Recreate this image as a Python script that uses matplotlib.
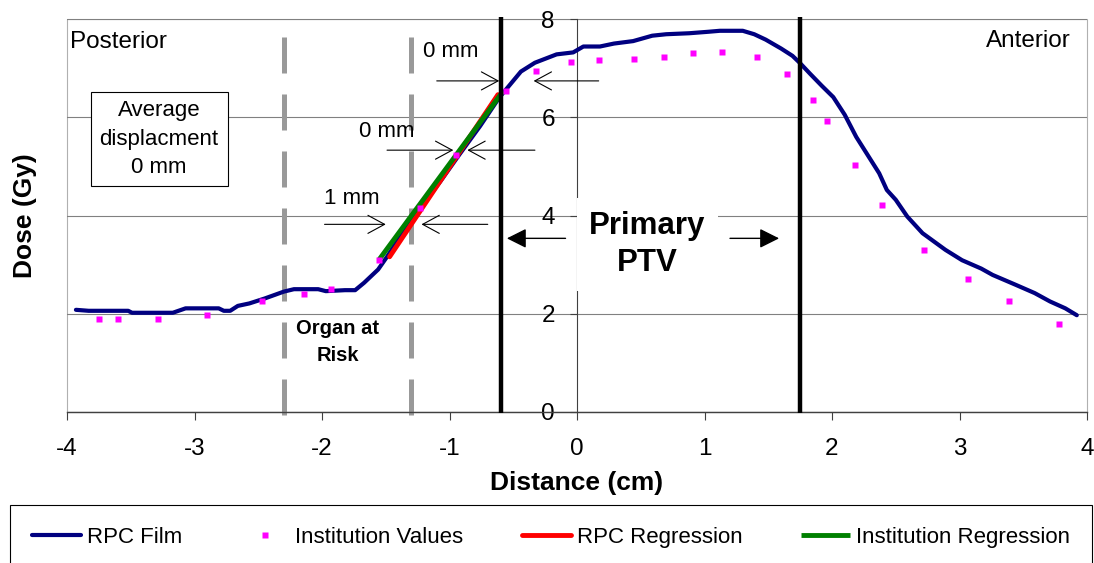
import matplotlib
matplotlib.use('Agg')
import matplotlib.pyplot as plt

plt.rcParams['font.family'] = ['Liberation Sans', 'DejaVu Sans']
plt.rcParams['axes.unicode_minus'] = False

# RPC film profile
film_x = [-3.93, -3.83, -3.52, -3.49, -3.17, -3.07, -2.81, -2.77, -2.72, -2.66,
          -2.57, -2.45, -2.30, -2.22, -2.03, -1.97, -1.82, -1.74, -1.67, -1.56,
          -1.49, -1.37, -1.22, -1.07, -0.92, -0.76, -0.61, -0.52, -0.44, -0.33,
          -0.16, -0.03, 0.05, 0.18, 0.29, 0.44, 0.59, 0.70, 0.88, 1.03,
          1.12, 1.30, 1.39, 1.48, 1.60, 1.69, 1.75, 1.83, 1.92, 2.01,
          2.10, 2.19, 2.28, 2.37, 2.43, 2.50, 2.59, 2.71, 2.89, 3.02,
          3.17, 3.26, 3.44, 3.59, 3.71, 3.83, 3.92]
film_y = [2.08, 2.06, 2.06, 2.02, 2.02, 2.11, 2.11, 2.06, 2.06, 2.16,
          2.21, 2.31, 2.45, 2.50, 2.50, 2.46, 2.48, 2.48, 2.63, 2.90,
          3.16, 3.64, 4.18, 4.70, 5.25, 5.82, 6.40, 6.68, 6.93, 7.11,
          7.28, 7.32, 7.44, 7.44, 7.50, 7.55, 7.66, 7.69, 7.71, 7.74,
          7.76, 7.76, 7.69, 7.58, 7.40, 7.25, 7.10, 6.88, 6.64, 6.41,
          6.05, 5.60, 5.23, 4.86, 4.52, 4.32, 3.98, 3.64, 3.30, 3.09,
          2.92, 2.79, 2.59, 2.42, 2.25, 2.11, 1.97]

# institution values
inst_x = [-3.75, -3.60, -3.29, -2.90, -2.47, -2.14, -1.93, -1.55, -1.23, -0.95,
          -0.56, -0.32, -0.05, 0.17, 0.45, 0.68, 0.91, 1.14, 1.41, 1.65,
          1.85, 1.96, 2.18, 2.39, 2.72, 3.07, 3.39, 3.78]
inst_y = [1.89, 1.89, 1.89, 1.97, 2.26, 2.40, 2.50, 3.09, 4.15, 5.23,
          6.54, 6.95, 7.13, 7.17, 7.19, 7.23, 7.30, 7.33, 7.23, 6.89,
          6.35, 5.93, 5.03, 4.21, 3.30, 2.71, 2.25, 1.80]

# regression lines on the penumbra
rpc_reg_x = [-1.47, -0.62]
rpc_reg_y = [3.16, 6.46]
inst_reg_x = [-1.55, -0.58]
inst_reg_y = [3.11, 6.53]

oar_edges = [-2.3, -1.3]
ptv_edges = [-0.6, 1.75]

fig = plt.figure(figsize=(10.94, 5.63), dpi=100)
ax = fig.add_axes([67 / 1094, 1 - 412 / 563, 1020 / 1094, 393 / 563])

ax.plot(film_x, film_y, color='#000080', lw=3, solid_capstyle='round',
        solid_joinstyle='round', zorder=3, label='RPC Film')
ax.plot(inst_x, inst_y, 's', color='#FF00FF', ms=4.3, mec='none', zorder=5,
        label='Institution Values')
ax.plot(rpc_reg_x, rpc_reg_y, color='#FF0000', lw=3.5, solid_capstyle='round',
        zorder=3.2, label='RPC Regression')
ax.plot(inst_reg_x, inst_reg_y, color='#008000', lw=3.5, solid_capstyle='butt',
        zorder=3.4, label='Institution Regression')

# organ at risk limits and PTV limits
ax.vlines(oar_edges, -0.06, 7.64, colors='#999999', lw=3.6,
          linestyles=(0, (7.2, 4.2)), clip_on=False, zorder=2)
ax.vlines(ptv_edges, -0.02, 8.04, colors='black', lw=3.2, clip_on=False, zorder=3.6)

# displacement arrows
open_head = '->,head_length=1.2,head_width=0.65'
def arrow(tail, head, style=open_head, lw=0.8):
    ax.annotate('', xy=head, xytext=tail,
                arrowprops=dict(arrowstyle=style, color='black', lw=lw,
                                shrinkA=0, shrinkB=0, mutation_scale=10),
                zorder=6)

arrow((-1.10, 6.74), (-0.61, 6.74))
arrow((0.17, 6.74), (-0.34, 6.74))
arrow((-1.49, 5.33), (-0.97, 5.33))
arrow((-0.33, 5.33), (-0.86, 5.33))
arrow((-1.98, 3.82), (-1.50, 3.82))
arrow((-0.70, 3.82), (-1.22, 3.82))

filled_head = '-|>,head_length=1.2,head_width=0.6'
arrow((-0.09, 3.535), (-0.55, 3.535), filled_head, 1.0)
arrow((1.20, 3.535), (1.585, 3.535), filled_head, 1.0)

ax.text(-0.99, 7.33, '0 mm', ha='center', va='center', fontsize=16)
ax.text(-1.49, 5.71, '0 mm', ha='center', va='center', fontsize=16)
ax.text(-1.765, 4.35, '1 mm', ha='center', va='center', fontsize=16)

ax.text(-3.978, 7.54, 'Posterior', ha='left', va='center', fontsize=17.5)
ax.text(3.871, 7.55, 'Anterior', ha='right', va='center', fontsize=17.5)

ax.text(-3.278, 5.557, 'Average\ndisplacment\n0 mm', ha='center', va='center',
        multialignment='center', fontsize=16, linespacing=1.44, zorder=6,
        bbox=dict(boxstyle='square,pad=0.4', fc='white', ec='black', lw=0.8))

ax.text(-1.876, 1.425, 'Organ at\nRisk', ha='center', va='center',
        multialignment='center', fontsize=14.5, fontweight='bold', linespacing=1.5)

ax.text(0.551, 3.41, 'Primary\nPTV', ha='center', va='center', multialignment='center',
        fontsize=22.5, fontweight='bold', linespacing=1.34, zorder=6,
        bbox=dict(boxstyle='square,pad=0.4', fc='white', ec='none'))

ax.set_xlim(-4, 4)
ax.set_ylim(0, 8)
ax.set_xticks(range(-4, 5))
ax.set_yticks([0, 2, 4, 6, 8])

ax.spines['left'].set_position(('data', 0))
ax.spines['left'].set_color('#404040')
ax.spines['left'].set_linewidth(0.8)
ax.spines['bottom'].set_color('#404040')
ax.spines['bottom'].set_linewidth(1.0)
ax.spines['top'].set_visible(False)
ax.spines['right'].set_visible(False)
ax.patch.set_edgecolor('#b0b0b0')
ax.patch.set_linewidth(0.8)

ax.yaxis.grid(True, color='#808080', lw=0.8)
ax.set_axisbelow(True)

ax.tick_params(axis='x', direction='out', length=6, width=0.8, color='#404040',
               labelsize=17.5, pad=13)
ax.tick_params(axis='y', direction='out', length=5, width=0.8, color='#404040',
               labelsize=17.5, pad=11)

ax.set_xlabel('Distance (cm)', fontsize=19, fontweight='bold', va='center')
ax.xaxis.set_label_coords(0.5, -0.181)
ax.set_ylabel('Dose (Gy)', fontsize=19, fontweight='bold', va='center')
ax.yaxis.set_label_coords(-0.041, 0.5)

handles, labels = ax.get_legend_handles_labels()
leg = fig.legend(handles, labels, loc='upper left',
                 bbox_to_anchor=(10 / 1094, 0, 1082 / 1094, 1 - 505 / 563),
                 mode='expand', ncol=4, fontsize=16, handlelength=2.2,
                 handletextpad=0.25, borderpad=1.0, borderaxespad=0,
                 fancybox=False, edgecolor='black', framealpha=1, numpoints=1)
leg.get_frame().set_linewidth(0.8)

fig.savefig('out.png', dpi=100)
